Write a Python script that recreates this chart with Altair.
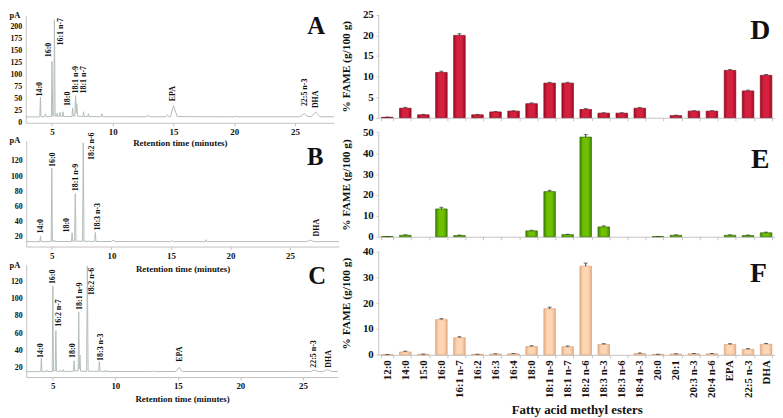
import altair as alt
import pandas as pd

FONT = "Liberation Serif"
W, H = 775, 410


def fx(p):
    return (p - 2) * 0.995


def fy(p):
    return (p - 2) * 0.99


# ---------------- chromatogram traces (retention time, pA) ----------------
tA = [2.85, 4.00, 4.05, 4.10, 4.40, 4.46, 4.52, 4.95, 5.00, 5.06, 5.15, 5.20, 5.26, 5.38, 5.42, 5.46,
      5.60, 5.65, 5.70, 5.85, 5.90, 5.96, 6.65, 6.70, 6.76, 6.88, 6.94, 7.00, 7.04, 7.10, 7.55, 7.60,
      7.66, 7.95, 8.00, 8.05, 9.05, 9.10, 9.18, 12.7, 12.9, 13.1, 14.3, 14.5, 14.65, 14.75, 15.0, 15.3,
      19.9, 20.1, 20.3, 25.4, 25.75, 26.05, 26.35, 26.7, 27.05, 28.2]
vA = [12.3, 12.3, 53.8, 12.5, 12.8, 19, 12.8, 13, 128, 14, 14, 215, 14, 13.5, 20, 13.5,
      13.5, 22.5, 13.5, 13.3, 23, 13.3, 13, 31.3, 13.5, 14, 56.6, 20, 40, 13.5, 13.2, 23,
      13.2, 13, 19, 13, 12.8, 19, 12.8, 12.5, 15, 12.5, 12.5, 16, 12.5, 13, 36, 13,
      12.4, 13.5, 12.4, 12.5, 19, 13, 13, 22.5, 12.6, 12.5]

tB = [2.85, 4.00, 4.05, 4.10, 4.95, 5.00, 5.05, 5.15, 5.20, 5.25, 6.65, 6.70, 6.76, 6.91, 6.97, 7.03,
      7.58, 7.64, 7.70, 8.60, 8.65, 8.71, 10.0, 10.13, 10.3, 15.0, 15.1, 15.2, 17.9, 17.96, 18.02,
      26.4, 26.7, 27.0, 29.1]
vB = [13.5, 13.5, 20.8, 13.5, 13.5, 110.6, 14, 13.8, 15.5, 13.6, 13.6, 25.2, 14, 14, 76.9, 14,
      14, 144, 14, 13.7, 25.6, 13.7, 13.6, 15.5, 13.6, 13.5, 15, 13.5, 13.5, 16, 13.5,
      13.5, 15.5, 13.5, 13.5]

tC = [2.87, 4.03, 4.08, 4.13, 4.45, 4.50, 4.55, 4.95, 5.00, 5.05, 5.19, 5.24, 5.29, 5.55, 5.60, 5.65,
      5.78, 5.83, 5.88, 6.65, 6.70, 6.75, 7.02, 7.07, 7.12, 7.17, 7.22, 7.70, 7.76, 7.82, 8.67, 8.72,
      8.78, 9.15, 9.20, 9.25, 12.9, 13.0, 13.1, 14.85, 15.1, 15.35, 25.6, 25.9, 26.2, 26.65, 26.97,
      27.3, 27.8]
vC = [15.1, 15.1, 30.7, 15.2, 15.2, 17, 15.2, 15.3, 115, 16, 16, 63, 15.5, 15.3, 17, 15.3,
      15.3, 17.5, 15.3, 15.5, 27.6, 16, 16, 84.6, 18, 34.5, 15.6, 15.6, 138, 15.6, 15.4, 26.8,
      15.4, 15.3, 17, 15.3, 15.2, 16, 15.2, 15.3, 20, 15.3, 15.2, 17, 15.3, 15.3, 17.7,
      15.3, 15.2]

# peak labels (name, retention time, pA at label foot)
labA_n = ["14:0", "16:0", "16:1 n-7", "18:0", "18:1 n-9", "18:1 n-7", "EPA", "22:5 n-3", "DHA"]
labA_t = [4.05, 4.72, 5.75, 6.35, 6.94, 7.62, 14.99, 25.8, 26.74]
labA_v = [55, 137, 161.5, 34.8, 61.3, 61.3, 45, 34.8, 30.7]

labB_n = ["14:0", "16:0", "18:0", "18:1 n-9", "18:2 n-6", "18:3 n-3", "DHA"]
labB_t = [4.11, 5.08, 6.24, 6.99, 8.36, 8.92, 27.29]
labB_v = [24.3, 112, 25.6, 80, 121.3, 28.2, 20.4]

labC_n = ["14:0", "16:0", "16:2 n-7", "18:0", "18:1 n-9", "18:2 n-6", "18:3 n-3", "EPA", "22:5 n-3", "DHA"]
labC_t = [4.08, 4.98, 5.52, 6.62, 7.15, 8.12, 8.86, 15.16, 25.91, 27.09]
labC_v = [31.1, 117, 67.5, 31.1, 87, 104, 27.6, 26.5, 19.7, 19.7]

# ---------------- FAME bar charts ----------------
cats = ["12:0", "14:0", "15:0", "16:0", "16:1 n-7", "16:2", "16:3", "16:4", "18:0", "18:1 n-9",
        "18:1 n-7", "18:2 n-6", "18:3 n-3", "18:3 n-6", "18:4 n-3", "20:0", "20:1", "20:3 n-3",
        "20:4 n-6", "EPA", "22:5 n-3", "DHA"]
fameD = [0.1, 2.3, 0.7, 11.0, 20.0, 0.7, 1.4, 1.6, 3.4, 8.4, 8.4, 2.0, 1.1, 1.1, 2.3, 0.0, 0.5,
         1.6, 1.6, 11.5, 6.5, 10.3]
errD = [0.05, 0.2, 0.1, 0.3, 0.4, 0.1, 0.1, 0.1, 0.2, 0.2, 0.2, 0.2, 0.1, 0.1, 0.2, 0.0, 0.1,
        0.1, 0.1, 0.2, 0.2, 0.2]
fameE = [0.1, 0.7, 0.0, 13.3, 0.6, 0.0, 0.0, 0.0, 2.8, 21.6, 1.0, 47.7, 4.7, 0.0, 0.0, 0.1, 0.7,
         0.0, 0.0, 0.7, 0.6, 1.9]
errE = [0.0, 0.2, 0.0, 0.8, 0.2, 0.0, 0.0, 0.0, 0.3, 0.6, 0.2, 1.2, 0.5, 0.0, 0.0, 0.0, 0.2,
        0.0, 0.0, 0.2, 0.2, 0.3]
fameF = [0.1, 1.1, 0.2, 13.6, 6.6, 0.2, 0.3, 0.4, 3.2, 17.8, 3.1, 34.3, 4.0, 0.0, 0.5, 0.2, 0.3,
         0.4, 0.4, 4.0, 2.1, 4.1]
errF = [0.0, 0.3, 0.1, 0.4, 0.4, 0.0, 0.1, 0.1, 0.3, 0.6, 0.3, 1.2, 0.3, 0.0, 0.2, 0.0, 0.1,
        0.1, 0.1, 0.3, 0.3, 0.3]

TRACE = "#b3bdb8"
AXC = "#c2c2c2"
INK = "#111111"

layers = []


def text_at(s, x, y, size):
    return alt.Chart(pd.DataFrame({"k": [0]})).mark_text(
        text=s, font=FONT, fontWeight="bold", fontSize=size, color=INK,
        align="center", baseline="middle"
    ).encode(x=alt.value(x), y=alt.value(y))


def chrom(t, v, ln, lt, lv, xdom, xpx, ydom, ypx, yticks, title_gap, letter, lpos, pa_y):
    xs = alt.Scale(domain=xdom, range=[fx(xpx[0]), fx(xpx[1])], nice=False, zero=False)
    ys = alt.Scale(domain=ydom, range=[fy(ypx[0]), fy(ypx[1])], nice=False, zero=False)
    xaxis = alt.Axis(orient="bottom", offset=fy(ypx[0]) - H, values=[5, 10, 15, 20, 25],
                     format="d", title="Retention time (minutes)", titleY=title_gap,
                     titleBaseline="middle", titleFontSize=9, labelFontSize=9,
                     tickSize=3, labelPadding=2, labelFlush=False)
    yaxis = alt.Axis(orient="left", offset=-fx(xpx[0]), values=yticks, format="d", title=None,
                     labelFontSize=8, tickSize=0, labelPadding=4)
    line = alt.Chart(pd.DataFrame({"t": t, "v": v})).mark_line(
        color=TRACE, strokeWidth=1
    ).encode(x=alt.X("t:Q", scale=xs, axis=xaxis), y=alt.Y("v:Q", scale=ys, axis=yaxis))
    labs = alt.Chart(pd.DataFrame({"n": ln, "t": lt, "v": lv})).mark_text(
        angle=270, align="left", baseline="middle", font=FONT, fontWeight="bold",
        fontSize=8, color=INK
    ).encode(x=alt.X("t:Q", scale=xs, axis=None), y=alt.Y("v:Q", scale=ys, axis=None), text="n:N")
    return [line, labs, text_at(letter, fx(lpos[0]), fy(lpos[1]), 25),
            text_at("pA", fx(9), fy(pa_y), 8.5)]


def grad(dark, mid):
    return alt.Gradient(
        gradient="linear", x1=0, x2=1, y1=0, y2=0,
        stops=[alt.GradientStop(color=dark, offset=0), alt.GradientStop(color=mid, offset=0.3),
               alt.GradientStop(color=mid, offset=0.7), alt.GradientStop(color=dark, offset=1)])


def bars(vals, errs, ydom, ypx, yticks, dark, mid, stroke, show_labels, letter, lpos):
    band = alt.Scale(domain=cats, range=[fx(378), fx(781)], paddingInner=0.36, paddingOuter=0.18)
    ys = alt.Scale(domain=ydom, range=[fy(ypx[0]), fy(ypx[1])], nice=False, zero=False)
    df = pd.DataFrame({"cat": cats, "val": vals, "err": errs})
    df["hi"] = df["val"] + df["err"]
    df = df[df["val"] > 0]
    if show_labels:
        xaxis = alt.Axis(orient="bottom", offset=fy(ypx[0]) - H, tickBand="extent", tickSize=3,
                         labelAngle=270, labelFontSize=11, labelPadding=2,
                         title="Fatty acid methyl esters", titleFontSize=13,
                         titleY=(410 - ypx[0]) * 0.99, titleBaseline="middle")
    else:
        xaxis = alt.Axis(orient="bottom", offset=fy(ypx[0]) - H, tickBand="extent", tickSize=3,
                         labels=False, title=None)
    yaxis = alt.Axis(orient="left", offset=-fx(378), values=yticks, format="d",
                     title="% FAME (g/100 g)", titleFontSize=11.5, titleX=-31.8,
                     titleBaseline="middle", labelFontSize=11, tickSize=2, labelPadding=3)
    b = alt.Chart(df).mark_bar(color=grad(dark, mid), stroke=stroke, strokeWidth=0.7).encode(
        x=alt.X("cat:N", scale=band, axis=xaxis), y=alt.Y("val:Q", scale=ys, axis=yaxis))
    r = alt.Chart(df).mark_rule(color="#333333", strokeWidth=1).encode(
        x=alt.X("cat:N", scale=band, axis=None), y=alt.Y("val:Q", scale=ys, axis=None),
        y2="hi:Q")
    c = alt.Chart(df).mark_tick(color="#333333", size=4, thickness=1).encode(
        x=alt.X("cat:N", scale=band, axis=None), y=alt.Y("hi:Q", scale=ys, axis=None))
    return [b, r, c, text_at(letter, fx(lpos[0]), fy(lpos[1]), 28)]


layers += chrom(tA, vA, labA_n, labA_t, labA_v, [2.84, 28.2], [20, 333], [0, 224], [117, 7.5],
                [0, 25, 50, 75, 100, 125, 150, 175, 200], 19.5, "A", (315, 18), 7)
layers += chrom(tB, vB, labB_n, labB_t, labB_v, [2.85, 29.1], [20.5, 338], [7, 147], [243.3, 135.1],
                [20, 40, 60, 80, 100, 120], 22.5, "B", (314, 152), 135)
layers += chrom(tC, vC, labC_n, labC_t, labC_v, [2.87, 27.8], [20.5, 337], [8.8, 140], [376.5, 261.5],
                [20, 40, 60, 80, 100, 120], 21.6, "C", (316, 273), 262)

layers += bars(fameD, errD, [0, 25], [111.8, 6.8], [0, 5, 10, 15, 20, 25],
               "#9c0c22", "#d5213f", "#8a0a1e", False, "D", (766, 23))
layers += bars(fameE, errE, [0, 50], [233.3, 126.7], [0, 10, 20, 30, 40, 50],
               "#3f8400", "#6fc000", "#377200", False, "E", (766, 155))
layers += bars(fameF, errF, [0, 40], [353.8, 248.3], [0, 10, 20, 30, 40],
               "#e9b089", "#fdd7b4", "#d9a27a", True, "F", (764, 271))

chart = alt.layer(*layers).resolve_scale(x="independent", y="independent").resolve_axis(
    x="independent", y="independent"
).properties(
    width=W, height=H, autosize=alt.AutoSizeParams(type="none"), padding=0
).configure_view(stroke=None).configure_axis(
    grid=False, labelFont=FONT, titleFont=FONT, labelFontWeight="bold", titleFontWeight="bold",
    labelColor=INK, titleColor=INK, domainColor=AXC, tickColor=AXC
)

chart.save("out.html", embed_options={"renderer": "svg", "actions": False})
